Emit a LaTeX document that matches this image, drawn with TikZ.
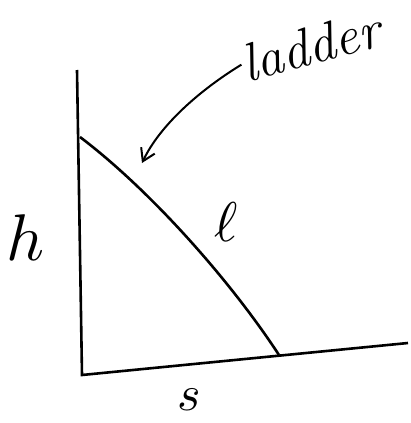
\documentclass[tikz,border=0pt]{standalone}
\usepackage{tikz}
\usetikzlibrary{arrows.meta}

\begin{document}
\begin{tikzpicture}[x=1pt,y=-1pt,>={Straight Barb[length=12pt,width=15pt]},line width=2.6pt]
  \useasboundingbox (0,0) rectangle (411,423);
  \tikzset{hand/.style={inner sep=0.2pt}}
  % wall and ground
  \coordinate (walltop) at (77,70);
  \coordinate (corner) at (82,375);
  \coordinate (groundend) at (408,343);
  \draw (walltop) -- (corner) -- (groundend);
  % ladder
  \coordinate (top) at (80,137);
  \coordinate (foot) at (279,355);
  \draw (top) .. controls (150,190) and (230,280) .. (foot);
  % labels
  \node[hand,rotate=15,font=\fontsize{54}{54}\selectfont\itshape] (ladder) at (311,46) {ladder};
  \node[hand,scale=6.6] (h) at (26,238) {$h$};
  \node[hand,scale=5.6] (l) at (226,222) {$\ell$};
  \node[hand,scale=5] (s) at (189,400) {$s$};
  \coordinate (tip) at (142,163);
  \draw[->,line width=2pt] (ladder.west) .. controls (200,90) and (160,125) .. (tip);
\end{tikzpicture}
\end{document}
